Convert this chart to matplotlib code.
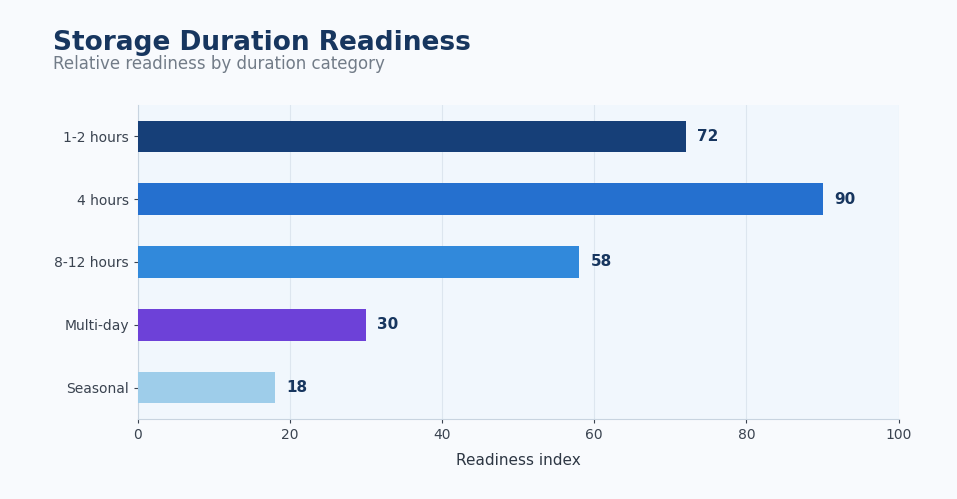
import matplotlib
matplotlib.use("Agg")
import matplotlib.pyplot as plt

plt.rcParams["font.family"] = ["DejaVu Sans"]

categories = ["1-2 hours", "4 hours", "8-12 hours", "Multi-day", "Seasonal"]
values = [72, 90, 58, 30, 18]
colors = ["#163f78", "#2570cf", "#3189db", "#6d41d8", "#9ecdea"]

fig = plt.figure(figsize=(9.57, 4.99), dpi=100, facecolor="#f8fafd")
ax = fig.add_axes([0.144, 0.160, 0.795, 0.630], facecolor="#f1f7fd")

y = list(range(len(categories)))[::-1]
ax.barh(y, values, height=0.5, color=colors, zorder=3)
for yi, v in zip(y, values):
    ax.text(v + 1.5, yi, str(v), va="center", ha="left", fontsize=11,
            fontweight="bold", color="#17365f")

ax.set_yticks(y)
ax.set_yticklabels(categories)
ax.set_xlim(0, 100)
ax.set_ylim(-0.5, 4.5)
ax.set_xticks(range(0, 101, 20))
ax.grid(axis="x", color="#dde6ef", linewidth=0.8, zorder=0)
ax.tick_params(axis="both", labelsize=10, colors="#3a4350", length=3)
for s in ["top", "right"]:
    ax.spines[s].set_visible(False)
for s in ["left", "bottom"]:
    ax.spines[s].set_color("#c8d4e0")
ax.set_xlabel("Readiness index", fontsize=11, color="#2e3744", labelpad=8)

fig.text(0.055, 0.900, "Storage Duration Readiness", fontsize=19, fontweight="bold",
         color="#17365f")
fig.text(0.055, 0.862, "Relative readiness by duration category", fontsize=12,
         color="#727c88")

fig.savefig("out.png", dpi=100, facecolor=fig.get_facecolor())
